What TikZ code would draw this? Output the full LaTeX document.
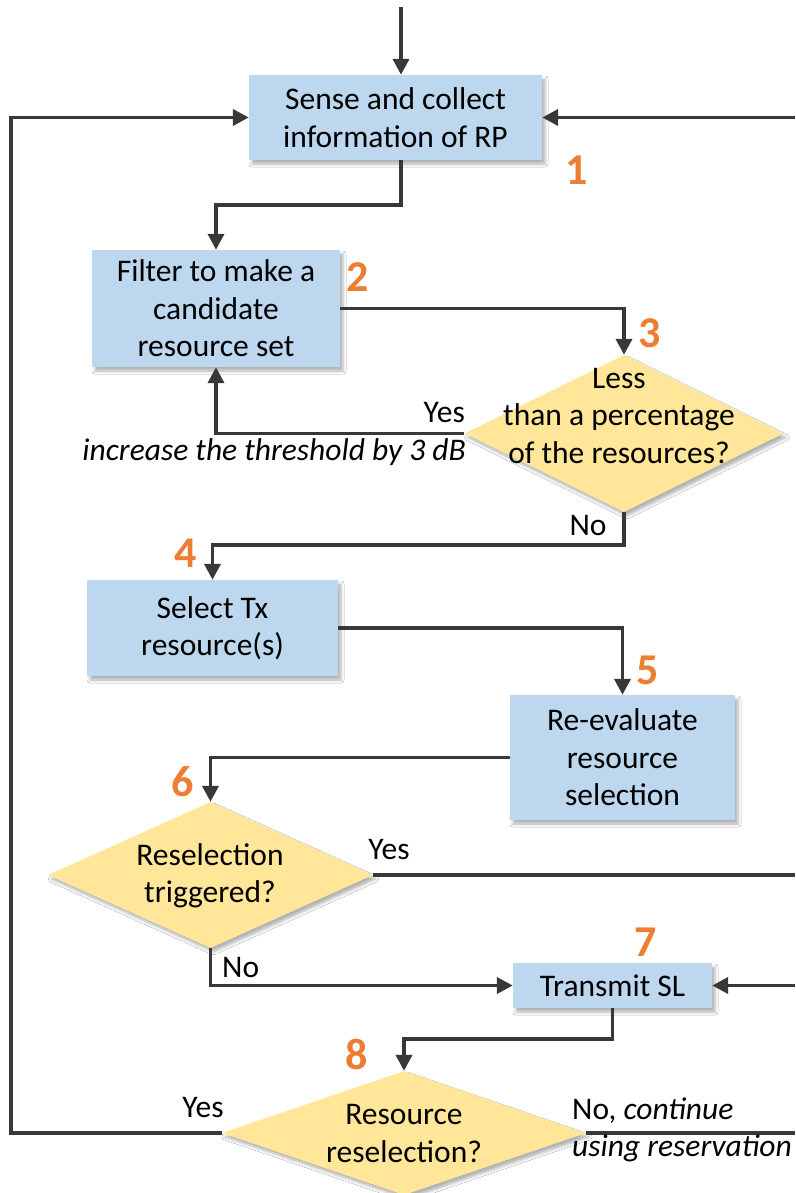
\documentclass[tikz,border=0pt]{standalone}
\usepackage{fontspec}
\setmainfont{Carlito}
\usetikzlibrary{shapes.geometric,shadows.blur,arrows.meta}
\definecolor{boxblue}{HTML}{BDD7EE}
\definecolor{dyellow}{HTML}{FFE699}
\definecolor{numorange}{HTML}{ED7D31}
\definecolor{linegray}{HTML}{383838}
\begin{document}
\begin{tikzpicture}[x=1pt,y=-1pt,
  txt/.style={font=\fontsize{31.5}{37.5}\selectfont, align=center, inner sep=0pt},
  proc/.style={fill=boxblue, draw=none, inner sep=0pt, txt,
    blur shadow={shadow xshift=3pt, shadow yshift=-4pt, shadow opacity=30, shadow blur radius=3pt}},
  dec/.style={shape=diamond, fill=dyellow, draw=none, inner sep=0pt,
    blur shadow={shadow xshift=3pt, shadow yshift=-4pt, shadow opacity=30, shadow blur radius=3pt}},
  num/.style={font=\fontsize{44}{44}\selectfont\bfseries, text=numorange, inner sep=0pt},
  lbl/.style={font=\fontsize{31.5}{37.5}\selectfont, inner sep=0pt},
  arr/.style={draw=linegray, line width=3.8pt, -{Triangle[length=16pt,width=16pt]}},
  ln/.style={draw=linegray, line width=3.8pt}
]
\useasboundingbox (0,0) rectangle (795,1193);
\fill[white] (0,0) rectangle (795,1193);

% process boxes
\node[proc, minimum width=293pt, minimum height=85pt] (b1) at (395.5,117.5) {Sense and collect\\information of RP};
\node[proc, minimum width=248pt, minimum height=117pt] (b2) at (216,308.5) {Filter to make a\\candidate\\resource set};
\node[proc, minimum width=251pt, minimum height=96pt] (b3) at (212.5,628) {Select Tx\\resource(s)};
\node[proc, minimum width=225pt, minimum height=125pt] (b4) at (622.5,757.5) {Re-evaluate\\resource\\selection};
\node[proc, minimum width=199pt, minimum height=45pt] (b5) at (612.5,985.5) {Transmit SL};

% decisions
\node[dec, minimum width=319pt, minimum height=157pt] (d3) at (624,433.5) {};
\node[txt] (d3t) at (619,416) {Less\\than a percentage\\of the resources?};
\node[dec, minimum width=325pt, minimum height=146pt] (d6) at (210.5,875) {};
\node[txt] (d6t) at (210,876) {Reselection\\triggered?};
\node[dec, minimum width=364pt, minimum height=124pt] (d8) at (404,1133) {};
\node[txt] (d8t) at (404,1133.5) {Resource\\reselection?};

% step numbers
\node[num] (n1) at (577,170) {1};
\node[num] (n2) at (358,277) {2};
\node[num] (n3) at (650,333) {3};
\node[num] (n4) at (186,553) {4};
\node[num] (n5) at (648,670) {5};
\node[num] (n6) at (183,782) {6};
\node[num] (n7) at (646,942) {7};
\node[num] (n8) at (357,1054) {8};

% coordinates
\coordinate (top) at (401,7);
\coordinate (R1) at (795,117.5);
\coordinate (R6) at (795,875);
\coordinate (R5) at (795,985.5);
\coordinate (R8) at (795,1133);
\coordinate (L) at (11,117.5);

% connectors
\draw[arr] (top) -- (top |- b1.north);
\draw[arr] (R1) -- (b1.east);
\draw[arr] (top |- b1.south) -- ++(0,45) -| (b2.north);
\draw[arr] (b2.east) -| (d3.north);
\draw[arr] (d3.west) -| (b2.south);
\draw[arr] (d3.south) -- ++(0,33) -| (b3.north);
\draw[arr] (b3.east) -| (b4.north);
\draw[arr] (b4.west) -| (d6.north);
\draw[ln] (d6.east) -- (R6);
\draw[arr] (d6.south) |- (b5.west);
\draw[arr] (R5) -- (b5.east);
\draw[arr] (b5.south) -- ++(0,31) -| (d8.north);
\draw[arr] (d8.west) -| (L) -- (b1.west);
\draw[ln] (d8.east) -- (R8);

% connector labels
\node[lbl, anchor=east] (y3) at (465,413) {Yes};
\node[lbl, anchor=east] (inc) at (466,452) {\itshape increase the threshold by 3 dB};
\node[lbl] (n3no) at (588,525) {No};
\node[lbl] (y6) at (389,849) {Yes};
\node[lbl, anchor=west] (no6) at (222,967) {No};
\node[lbl] (y8) at (203,1107) {Yes};
\node[lbl, anchor=west, align=left] (no8) at (572,1130) {No, \itshape continue\\\itshape using reservation};
\end{tikzpicture}
\end{document}
